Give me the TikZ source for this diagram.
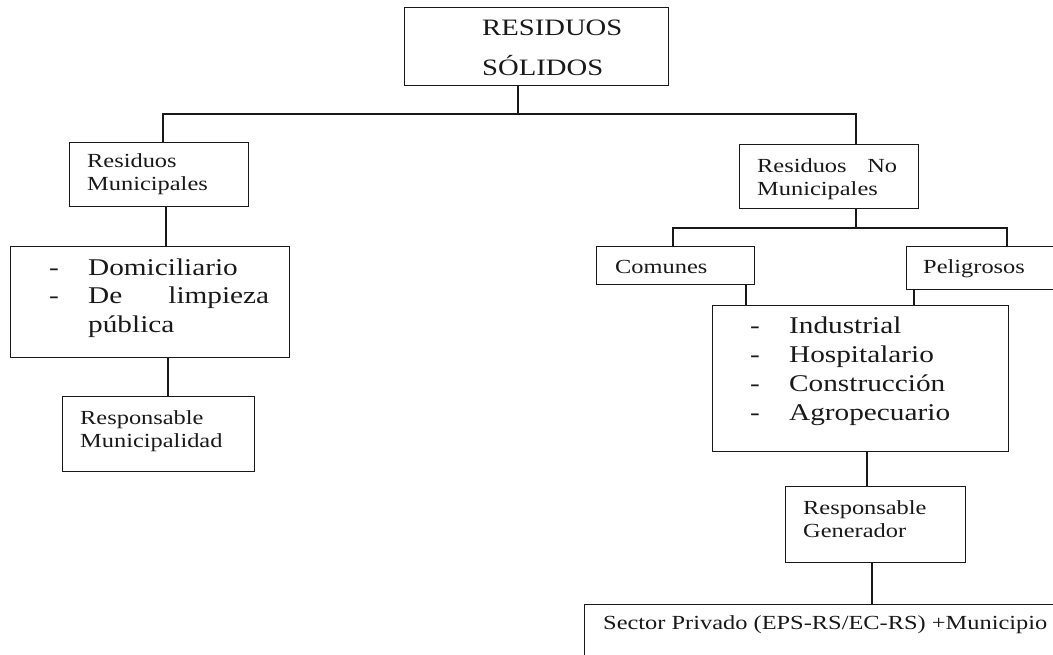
\documentclass[tikz,border=0pt]{standalone}
\usepackage{fontspec}
\setmainfont{Liberation Serif}[FakeStretch=1.22]

\begin{document}
\begin{tikzpicture}[x=1pt,y=-1pt,
  box/.style={draw=black!90, line width=1.3pt, inner sep=0pt, anchor=north west},
  txt/.style={anchor=base west, inner sep=0pt, align=left, text=black!90, font=\fontsize{20}{23}\selectfont},
  items/.style={txt, font=\fontsize{24}{28.5}\selectfont},
  link/.style={draw=black!90, line width=1.3pt}]

	% page frame
	\path[use as bounding box, clip] (0,0) rectangle (1053,654);

	% boxes
	\node[box, minimum width=264pt, minimum height=78pt] (solidos) at (404,7) {};
	\node[box, minimum width=179pt, minimum height=64pt] (mun) at (69,142) {};
	\node[box, minimum width=279pt, minimum height=111pt] (dom) at (10,246) {};
	\node[box, minimum width=192pt, minimum height=75pt] (rmun) at (62,396) {};
	\node[box, minimum width=179pt, minimum height=64pt] (nomun) at (739,144) {};
	\node[box, minimum width=158pt, minimum height=38pt] (com) at (596,246) {};
	\node[box, minimum width=170pt, minimum height=43pt] (pel) at (906,246) {};
	\node[box, minimum width=296pt, minimum height=146pt] (tipos) at (712,305) {};
	\node[box, minimum width=180pt, minimum height=76pt] (rgen) at (785,486) {};
	\node[box, minimum width=500pt, minimum height=90pt] (sector) at (584,604) {};

	% texts (placed at the baseline of their last line)
	\node[txt, font=\fontsize{23.5}{40}\selectfont] (t-solidos) at (482,75) {RESIDUOS\\SÓLIDOS};
	\node[txt] (t-mun) at (87,190) {Residuos\\Municipales};
	\node[items] (t-dom) at (49,332) {\makebox[39pt][l]{-}Domiciliario\\
		\makebox[39pt][l]{-}\makebox[181pt][l]{De\hfill limpieza}\\
		\hspace*{39pt}pública};
	\node[txt] (t-rmun) at (80,447) {Responsable\\Municipalidad};
	\node[txt] (t-nomun) at (757,195) {\makebox[140pt][l]{Residuos\hfill No}\\Municipales};
	\node[txt] (t-com) at (615,273) {Comunes};
	\node[txt] (t-pel) at (923,273) {Peligrosos};
	\node[items, font=\fontsize{24}{29}\selectfont] (t-tipos) at (750,420) {\makebox[39pt][l]{-}Industrial\\
		\makebox[39pt][l]{-}Hospitalario\\
		\makebox[39pt][l]{-}Construcción\\
		\makebox[39pt][l]{-}Agropecuario};
	\node[txt] (t-rgen) at (803,537) {Responsable\\Generador};
	\node[txt] (t-sector) at (603,629) {Sector Privado (EPS-RS/EC-RS) +Municipio};

	% connectors
	\coordinate (jtop) at (518,114);
	\coordinate (jmun) at (163,114);
	\coordinate (jnomun) at (856,114);
	\draw[link] (solidos.south -| jtop) -- (jtop);
	\draw[link] (mun.north -| jmun) |- (jnomun) -- (nomun.north -| jnomun);

	\coordinate (xa) at (166,0);
	\coordinate (xb) at (168,0);
	\draw[link] (mun.south -| xa) -- (dom.north -| xa);
	\draw[link] (dom.south -| xb) -- (rmun.north -| xb);

	\coordinate (jnm) at (856,228);
	\coordinate (jcom) at (673,228);
	\coordinate (jpel) at (1007,228);
	\draw[link] (nomun.south -| jnm) -- (jnm);
	\draw[link] (com.north -| jcom) |- (jpel) -- (pel.north -| jpel);

	\coordinate (xc) at (746,0);
	\coordinate (xd) at (914,0);
	\draw[link] (com.south -| xc) -- (tipos.north -| xc);
	\draw[link] (pel.south -| xd) -- (tipos.north -| xd);

	\coordinate (xe) at (867,0);
	\coordinate (xf) at (872,0);
	\draw[link] (tipos.south -| xe) -- (rgen.north -| xe);
	\draw[link] (rgen.south -| xf) -- (sector.north -| xf);
\end{tikzpicture}
\end{document}
